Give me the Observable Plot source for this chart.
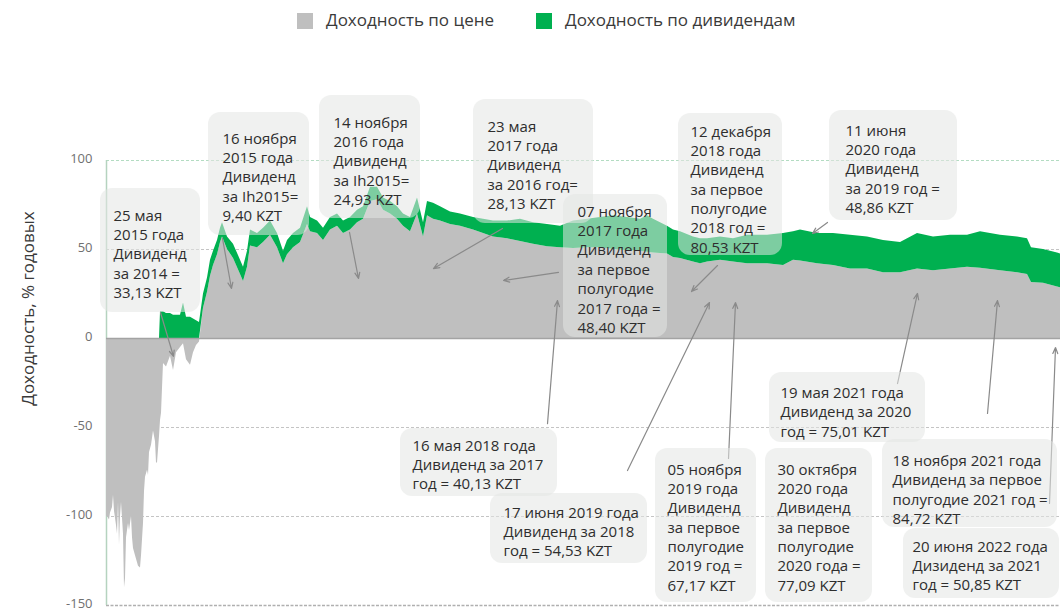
<!DOCTYPE html>
<html><head><meta charset="utf-8">
<script src="https://cdn.jsdelivr.net/npm/d3@7"></script>
<script src="https://cdn.jsdelivr.net/npm/@observablehq/plot@0.6"></script>
<style>
body{margin:0;background:#fff;font-family:"Open Sans",sans-serif;width:1060px;height:611px;overflow:hidden;}
#legend{position:relative;height:40px;}
#legend .sw{position:absolute;top:13px;width:16px;height:16px;}
#legend .lb{position:absolute;top:9px;font-size:17px;line-height:22px;color:#3a3a3a;white-space:nowrap;}
#chart svg{display:block;}
</style></head><body>
<div id="legend"></div>
<div id="chart"></div>
<script>
// ---- series names & colours
const seriesNames = ["Доходность по цене", "Доходность по дивидендам"];
const seriesColors = ["#bfbfbf", "#00b050"];

// ---- time (decimal year), price return and dividend return, % annualised
const years = [
2014.862,2014.870,2014.886,2014.894,2014.910,2014.918,2014.926,2014.942,2014.950,2014.958,
2014.966,2014.974,2014.982,2014.998,2015.006,2015.014,2015.022,2015.038,2015.046,2015.062,
2015.070,2015.078,2015.094,2015.110,2015.118,2015.134,2015.142,2015.158,2015.166,2015.174,
2015.190,2015.198,2015.206,2015.222,2015.230,2015.238,2015.254,2015.262,2015.270,2015.286,
2015.294,2015.302,2015.318,2015.342,2015.374,2015.398,2015.422,2015.454,2015.478,2015.502,
2015.534,2015.558,2015.582,2015.606,
2015.638,2015.670,2015.694,2015.718,2015.750,2015.774,2015.790,2015.830,2015.878,2015.934,
2015.958,2015.990,2016.014,2016.070,2016.118,2016.174,2016.230,2016.278,2016.310,2016.358,
2016.414,2016.470,2016.494,2016.550,2016.598,2016.654,2016.710,2016.758,2016.814,2016.870,
2016.918,2016.974,2017.030,2017.078,2017.134,2017.190,2017.238,2017.294,2017.350,2017.398,
2017.430,2017.478,2017.534,2017.614,2017.694,2017.798,2017.878,2017.958,2018.070,2018.174,
2018.278,2018.390,2018.494,2018.598,2018.710,2018.814,2018.918,2019.030,2019.134,2019.190,
2019.238,2019.350,2019.398,2019.454,2019.558,2019.614,2019.670,2019.774,2019.878,2019.990,
2020.094,2020.150,2020.278,2020.358,2020.414,2020.550,2020.678,2020.814,2020.950,2021.078,
2021.214,2021.350,2021.478,2021.614,2021.750,2021.854,2022.014,2022.150,2022.230,2022.262,
2022.358,2022.470,2022.494
];
const priceReturn = [
-100,-100,-102,-98,-95,-88,-97,-105,-110,-92,
-116,-100,-92,-110,-140,-135,-112,-104,-108,-100,
-112,-118,-122,-126,-128,-129,-122,-104,-86,-78,
-74,-77,-64,-60,-56,-52,-58,-70,-70,-55,
-46,-42,-14,-16,-10,-18,-8,-5,-3,-12,
-15,-8,-4,-2,
17,26,35,41,47,54,57,50,45,36,
32,40,52,51,54,58,51,42,47,51,
54,64,60,59,55,61,63,59,61,65,
67,77,78,72,70,67,63,60,70,57,
69,67,66,64,63,61,59,57,56,54.5,
53,51.5,51,50.5,51,51,50,49.5,49,48.5,
48,47.5,45.5,45,43,42,43,44,43,42,
42,42,41,44,43.5,42,41,39,39,37,
37,39,38,39,40,39.5,38,37,36,31.5,
31,29,28.5
];
const dividendReturn = [
0,0,0,0,0,0,0,0,0,0,
0,0,0,0,0,0,0,0,0,0,
0,0,0,0,0,0,0,0,0,0,
0,0,0,0,0,0,0,0,0,0,
15,15,15,14,14,13,13,13,20,12,
12,11,10,9,
8,8,9,8,8,8,8,7,8,8,
8,9,9,8,8,8,8,7,8,8,
8,10,8,7,7,7,7,7,7,7,
7,8,7,7,7,7,7,8,9,8,
8,9,8,7,7,7,8,9,10,12.5,
12,12.5,12,15.5,16,17,19,18.5,18,20.5,
19,15.5,15.5,15,14,14,13,13,13,16,
16,16,18,16,17.5,17,18,19,18,18,
17,20,19,19,18,20.5,20,20,20,19.5,
19,19,19
];

// ---- y ticks
const yTicks = [-150, -100, -50, 0, 50, 100];
const yLabel = "Доходность, % годовых";

// ---- annotation texts
const noteTexts = [
"25 мая\n2015 года\nДивиденд\nза 2014 =\n33,13 KZT",
"16 ноября\n2015 года\nДивиденд\nза Ih2015=\n9,40 KZT",
"14 ноября\n2016 года\nДивиденд\nза Ih2015=\n24,93 KZT",
"23 мая\n2017 года\nДивиденд\nза 2016 год=\n28,13 KZT",
"07 ноября\n2017 года\nДивиденд\nза первое\nполугодие\n2017 года =\n48,40 KZT",
"12 декабря\n2018 года\nДивиденд\nза первое\nполугодие\n2018 год =\n80,53 KZT",
"11 июня\n2020 года\nДивиденд\nза 2019 год =\n48,86 KZT",
"16 мая 2018 года\nДивиденд за 2017\nгод = 40,13 KZT",
"17 июня 2019 года\nДивиденд за 2018\nгод = 54,53 KZT",
"05 ноября\n2019 года\nДивиденд\nза первое\nполугодие\n2019 год =\n67,17 KZT",
"30 октября\n2020 года\nДивиденд\nза первое\nполугодие\n2020 года =\n77,09 KZT",
"19 мая 2021 года\nДивиденд за 2020\nгод = 75,01 KZT",
"18 ноября 2021 года\nДивиденд за первое\nполугодие 2021 год =\n84,72 KZT",
"20 июня 2022 года\nДизиденд за 2021\nгод = 50,85 KZT"
];
// annotation layout (in chart units): box [t1, t2, vTop, vBottom], text anchor [t, v]
const noteBoxes = [
[2014.814,2015.614,84.3,14.6],[2015.678,2016.486,127.0,57.9],[2016.566,2017.374,136.5,67.4],
[2017.798,2018.758,134.3,64.6],[2018.518,2019.350,80.9,0.6],[2019.438,2020.270,126.4,46.6],
[2020.646,2021.670,128.1,66.3],[2017.214,2018.470,-50.6,-88.8],[2017.934,2019.190,-87.1,-126.4],
[2019.254,2020.062,-61.8,-148.3],[2020.134,2020.990,-61.8,-148.3],[2020.166,2021.414,-19.1,-58.4],
[2021.070,2022.470,-56.7,-106.2],[2021.238,2022.486,-106.7,-146.1]
];
const noteAnchors = [
[2014.918,73.9],[2015.790,117.1],[2016.678,126.1],[2017.910,123.9],[2018.630,76.1],
[2019.534,121.1],[2020.774,121.6],[2017.310,-55.3],[2018.038,-93.0],[2019.350,-68.8],
[2020.230,-68.8],[2020.254,-25.6],[2021.150,-63.8],[2021.310,-112.1]
];
// arrows: [t from, v from, t to, v to]
const noteArrows = [
[2015.294,14.6,2015.398,-10.1],[2015.790,56.2,2015.862,28.1],[2016.806,59.6,2016.878,33.7],
[2018.030,61.8,2017.478,39.3],[2018.478,37.1,2018.038,32.6],[2018.390,-47.8,2018.470,21.3],
[2019.750,41.0,2019.542,26.4],[2019.030,-74.2,2019.686,20.2],[2019.838,-67.4,2019.894,20.2],
[2020.630,65.2,2020.510,59.0],[2021.190,-25.3,2021.350,25.3],[2021.910,-42.1,2021.990,21.3],
[2022.406,-92.7,2022.454,-5.1]
];

// ---- build tables
const rows = [];
years.forEach((t, i) => {
  rows.push({t, v: priceReturn[i], s: seriesNames[0]});
  rows.push({t, v: dividendReturn[i], s: seriesNames[1]});
});
const boxes = noteBoxes.map(b => ({x1: b[0], x2: b[1], y1: b[2], y2: b[3]}));
const labels = noteTexts.map((txt, i) => ({x: noteAnchors[i][0], y: noteAnchors[i][1], txt}));
const arrows = noteArrows.map(a => ({x1: a[0], y1: a[1], x2: a[2], y2: a[3]}));

// ---- legend
const leg = document.getElementById("legend");
const legX = [[297, 326], [536, 565]];
seriesNames.forEach((n, i) => {
  const sw = document.createElement("span"); sw.className = "sw";
  sw.style.left = legX[i][0] + "px"; sw.style.background = seriesColors[i]; leg.appendChild(sw);
  const lb = document.createElement("span"); lb.className = "lb";
  lb.style.left = legX[i][1] + "px"; lb.textContent = n; leg.appendChild(lb);
});

const chart = Plot.plot({
  width: 1060, height: 571,
  marginLeft: 106, marginRight: 0, marginTop: 120, marginBottom: 6,
  style: {fontFamily: "Open Sans, sans-serif", background: "transparent"},
  x: {domain: [years[0], years[years.length - 1]], axis: null},
  y: {domain: [-150, 100], axis: null},
  color: {domain: seriesNames, range: seriesColors},
  marks: [
    Plot.ruleY([50, -50, -100], {stroke: "#c4c4c4", strokeDasharray: "3,2"}),
    Plot.ruleY([-150], {stroke: "#b0b0b0", strokeDasharray: "3,1.5", strokeWidth: 1.5}),
    Plot.ruleY([100], {stroke: "#b3dcc2", strokeDasharray: "3,2"}),
    Plot.ruleX([years[0]], {y1: -150, y2: 100, stroke: "#b5d3bf", strokeWidth: 1.5}),
    Plot.areaY(rows, {x: "t", y: "v", z: "s", fill: "s"}),
    Plot.ruleY([0], {stroke: "#a3a3a3", strokeWidth: 1.5}),
    Plot.axisY(yTicks, {tickSize: 0, tickPadding: 14, fontSize: 13, dy: -1.5, fill: "#707070", tickFormat: d => String(d), label: null}),
    Plot.text([yLabel], {frameAnchor: "left", textAnchor: "middle", rotate: -90, dx: -78, dy: -74.5, fontSize: 17, fill: "#3a3a3a"}),
    Plot.arrow(arrows, {x1: "x1", y1: "y1", x2: "x2", y2: "y2", stroke: "#8a8a8a", strokeWidth: 1.2, headLength: 8, headAngle: 45}),
    Plot.rect(boxes, {x1: "x1", x2: "x2", y1: "y1", y2: "y2", fill: "#e3e6e4", fillOpacity: 0.55, rx: 12}),
    Plot.text(labels, {x: "x", y: "y", text: "txt", textAnchor: "start", lineAnchor: "top", fontSize: 15, lineHeight: 1.29, fill: "#2e2e2e"})
  ]
});
document.getElementById("chart").appendChild(chart);
</script>
</body></html>
